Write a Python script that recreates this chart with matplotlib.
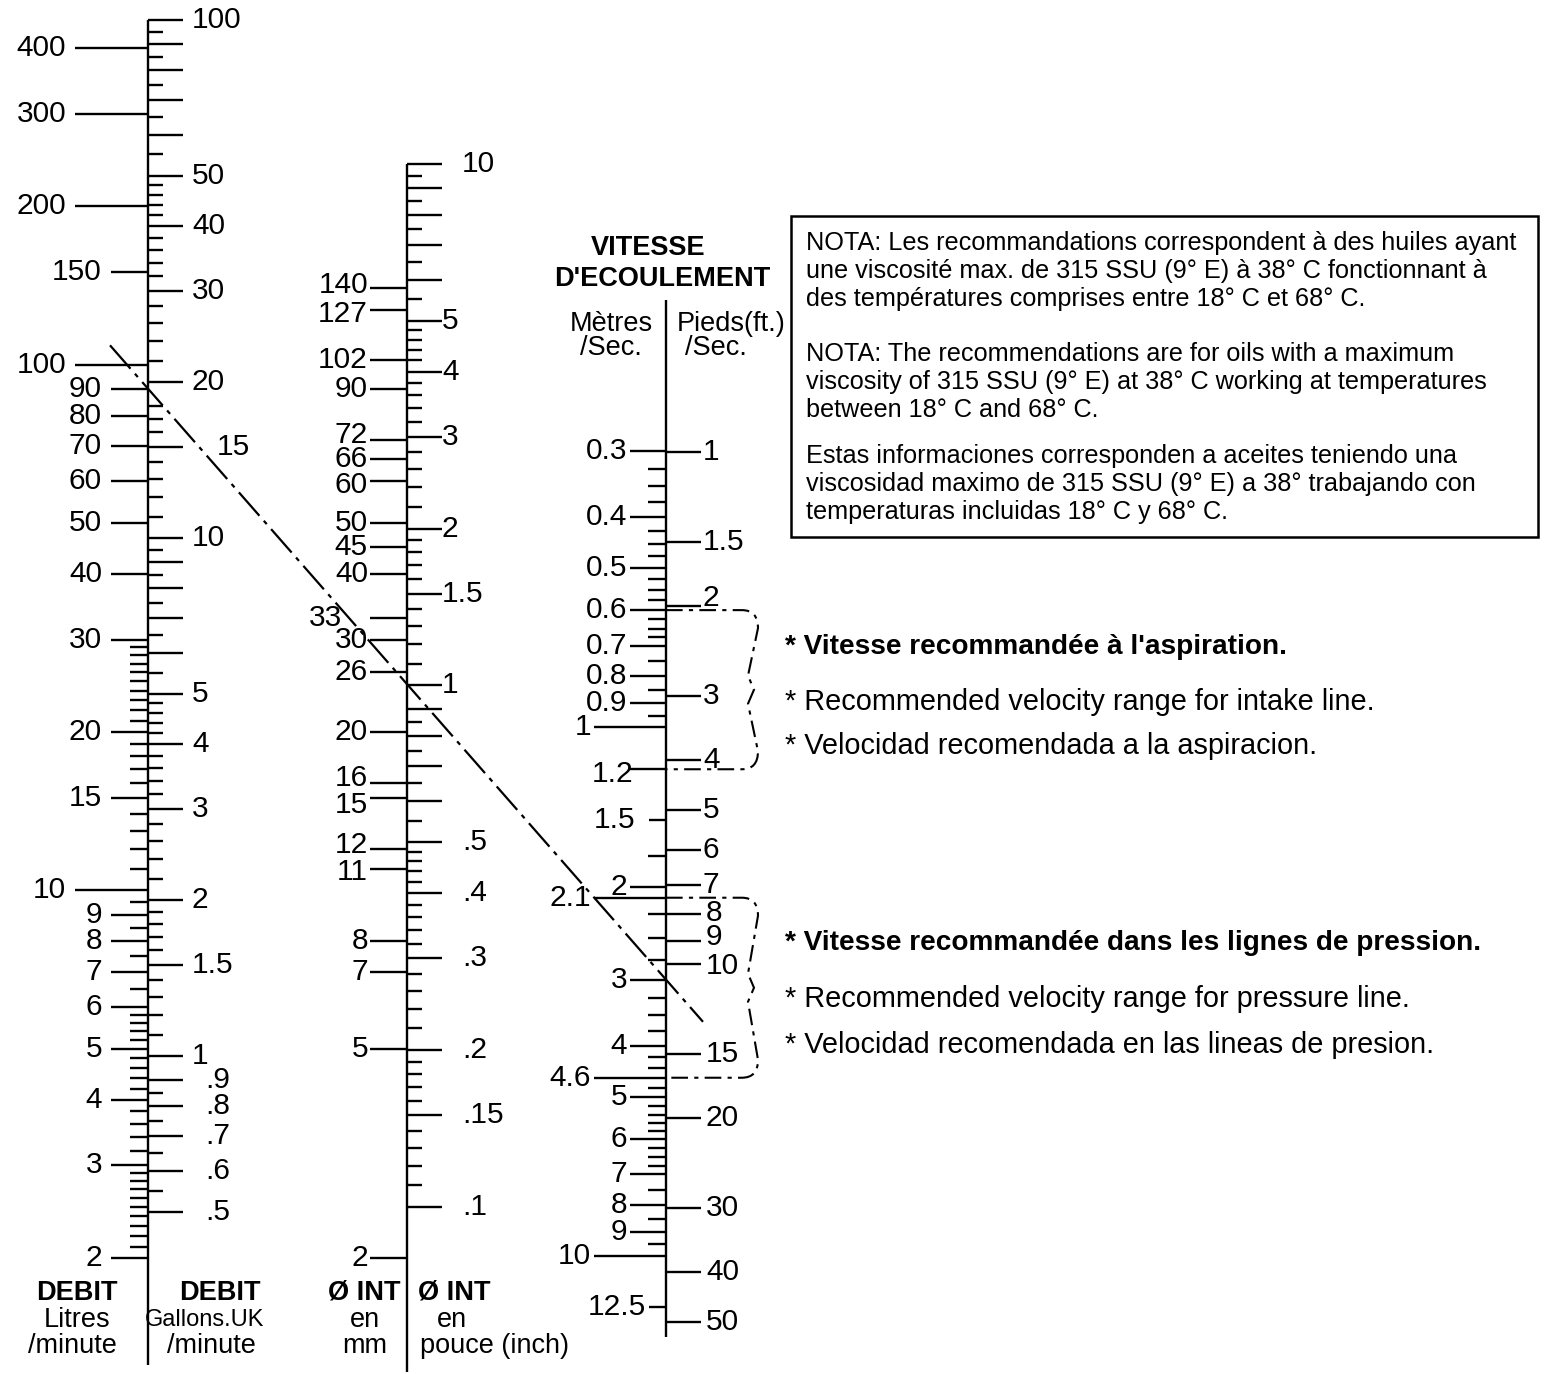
import numpy as np
import matplotlib.pyplot as plt
from matplotlib import transforms
from matplotlib.path import Path
from matplotlib.patches import PathPatch, Rectangle

plt.rcParams['font.family'] = ['Liberation Sans', 'DejaVu Sans']

# ---- scale values ----
litres_major = [400, 300, 200, 150, 100, 90, 80, 70, 60, 50, 40, 30, 20, 15,
                10, 9, 8, 7, 6, 5, 4, 3, 2]
litres_long = [400, 300, 200, 100, 10]
litres_minor = [29, 28, 27, 26, 25, 24, 23, 22, 21, 19, 18, 17, 16,
                14, 13, 12, 11, 9.5, 8.5, 7.5, 6.5,
                5.8, 5.6, 5.4, 5.2, 4.8, 4.6, 4.4, 4.2,
                3.8, 3.6, 3.4, 3.2, 2.9, 2.8, 2.7, 2.6, 2.5, 2.4, 2.3, 2.2, 2.1]

gal_labels = [100, 50, 40, 30, 20, 15, 10, 5, 4, 3, 2, 1.5, 1,
              .9, .8, .7, .6, .5]
gal_long = [90, 80, 70, 60, 9, 8, 7, 6]
gal_short = [95, 85, 75, 65, 55, 48, 46, 44, 42, 38, 36, 34, 32,
             28, 26, 24, 22, 18, 17, 16, 14, 13, 12, 11,
             9.5, 8.5, 7.5, 6.5, 5.5, 4.8, 4.6, 4.4, 4.2, 3.8, 3.6, 3.4, 3.2,
             2.8, 2.6, 2.4, 2.2, 1.9, 1.8, 1.7, 1.6, 1.4, 1.3, 1.2, 1.1,
             .85, .75, .65, .55]

mm_major = [140, 127, 102, 90, 72, 66, 60, 50, 45, 40, 33, 30, 26, 20,
            16, 15, 12, 11, 8, 7, 5, 2]

inch_labels = [10, 5, 4, 3, 2, 1.5, 1, .5, .4, .3, .2, .15, .1]
inch_long = [9, 8, 7, 6, .9, .8, .7, .6]
inch_short = [9.5, 8.5, 7.5, 6.5, 5.5, 4.8, 4.6, 4.4, 4.2, 3.8, 3.6, 3.4, 3.2,
              2.8, 2.6, 2.4, 2.2, 1.9, 1.8, 1.7, 1.6, 1.4, 1.3, 1.2, 1.1,
              .85, .75, .65, .55, .48, .46, .44, .42, .38, .36, .34, .32,
              .28, .26, .24, .22, .19, .18, .17, .16, .14, .13, .12, .11]

ms_major = [0.3, 0.4, 0.5, 0.6, 0.7, 0.8, 0.9, 1, 1.2, 1.5, 2, 2.1, 3, 4,
            4.6, 5, 6, 7, 8, 9, 10, 12.5]
ms_long = [1, 2.1, 4.6, 10]
ms_mid = [1.5, 12.5]
ms_minor = [0.325, 0.35, 0.375, 0.425, 0.45, 0.475, 0.525, 0.55, 0.575,
            0.625, 0.65, 0.675, 0.75, 0.85, 0.95, 1.75, 2.25, 2.5, 2.75,
            3.25, 3.5, 3.75, 4.2, 4.4, 4.8, 5.2, 5.4, 5.6, 5.8,
            6.25, 6.5, 6.75, 7.5, 8.5, 9.5]

ft_major = [1, 1.5, 2, 3, 4, 5, 6, 7, 8, 9, 10, 15, 20, 30, 40, 50]

# example reading: 90 l/min at 3 m/s -> 1 inch
example_q = 90
example_v = 3
# recommended ranges (m/s)
intake_range = (0.6, 1.2)
pressure_range = (2.1, 4.6)

W, H = 1549, 1374
fig = plt.figure(figsize=(W / 100, H / 100), dpi=100)
base = fig.add_axes([0, 0, 1, 1])
base.set_xlim(0, W)
base.set_ylim(H, 0)
base.axis('off')

NUM = 21.5   # tick label size
LW = 1.7


def scale_axes(v_a, p_a, v_b, p_b):
    # log axis over the whole figure, calibrated on two scale marks
    ppd = (p_b - p_a) / np.log10(v_a / v_b)
    top = v_a * 10 ** (p_a / ppd)
    bottom = v_a / 10 ** ((H - p_a) / ppd)
    ax = fig.add_axes([0, 0, 1, 1])
    ax.set_facecolor('none')
    ax.set_xlim(0, W)
    ax.set_yscale('log')
    ax.set_ylim(bottom, top)
    ax.axis('off')
    return ax


def fmt(v):
    s = '%g' % v
    if v < 1 and s.startswith('0.'):
        s = s[1:]
    return s


def label(ax, x, v, s, ha, dy=0, **kw):
    # dy in pixels, positive moves the text down
    tr = transforms.offset_copy(ax.transData, fig=fig, x=0, y=-dy,
                                units='dots')
    ax.text(x, v, s, ha=ha, va='center', fontsize=NUM, transform=tr, **kw)


ax_l = scale_axes(400, 48, 2, 1258)
ax_g = scale_axes(100, 20, 0.5, 1212)
ax_mm = scale_axes(102, 360, 2, 1258)
ax_in = scale_axes(10, 164, 0.1, 1207)
ax_ms = scale_axes(0.3, 451, 10, 1256)
ax_ft = scale_axes(1, 452, 50, 1322)

# main vertical lines
base.vlines([148, 407, 666], [20, 164, 300], [1365, 1372, 1337],
            color='black', lw=LW)

# --- Litres / minute (left of first axis) ---
for v in litres_major:
    x0 = 75 if v in litres_long else 111
    ax_l.hlines(v, x0, 148, color='black', lw=LW)
    label(ax_l, x0 - 9, v, fmt(v), 'right')
ax_l.hlines(litres_minor, 130, 148, color='black', lw=LW)

# --- Gallons UK / minute (right of first axis) ---
ax_g.hlines(gal_labels + gal_long, 148, 183, color='black', lw=LW)
ax_g.hlines(gal_short, 148, 163, color='black', lw=LW)
for v in gal_labels:
    s = fmt(v)
    dx = 22 if s.startswith('.') else 9
    if s == '15':
        dx = 34
    label(ax_g, 183 + dx, v, s, 'left')

# --- diameter mm (left of second axis) ---
mm_dy = {140: -3, 127: 4, 72: -5, 66: 0, 60: 4, 16: -5, 15: 7, 12: -4,
         11: 3}
ax_mm.hlines(mm_major, 370, 407, color='black', lw=LW)
for v in mm_major:
    x = 342 if v == 33 else 368
    label(ax_mm, x, v, fmt(v), 'right', dy=mm_dy.get(v, 0))

# --- diameter inch (right of second axis) ---
ax_in.hlines(inch_labels + inch_long, 407, 442, color='black', lw=LW)
ax_in.hlines(inch_short, 407, 422, color='black', lw=LW)
for v in inch_labels:
    s = fmt(v)
    dx = 20 if (s.startswith('.') or s == '10') else 0
    label(ax_in, 442 + dx, v, s, 'left')

# --- metres / sec (left of third axis) ---
for v in ms_major:
    if v in ms_long:
        x0 = 594
    elif v in ms_mid:
        x0 = 649
    else:
        x0 = 630
    ax_ms.hlines(v, x0, 666, color='black', lw=LW)
    xl, dy = x0 - 3, 0
    if v == 1.5:
        xl = 635
    if v == 1.2:
        xl, dy = 633, 5
    label(ax_ms, xl, v, '%g' % v, 'right', dy=dy)
ax_ms.hlines(ms_minor, 648, 666, color='black', lw=LW)

# --- feet / sec (right of third axis) ---
ft_dy = {2: -8, 8: -1, 9: -4, 10: 2}
ax_ft.hlines(ft_major, 666, 701, color='black', lw=LW)
for v in ft_major:
    label(ax_ft, 703 if v < 8 else 706, v, fmt(v), 'left',
          dy=ft_dy.get(v, 0))


def to_px(ax, x, v):
    d = ax.transData.transform((x, v))
    return base.transData.inverted().transform(d)


# --- example dash-dot reading line ---
p1 = to_px(ax_l, 148, example_q)
p2 = to_px(ax_ms, 666, example_v)
slope = (p2[1] - p1[1]) / (p2[0] - p1[0])
xs = np.array([110, 703])
base.plot(xs, p1[1] + slope * (xs - p1[0]), color='black', lw=1.6,
          ls=(0, (14, 3, 2, 3)))


# --- braces for recommended ranges ---
def brace(v_top, v_bot):
    yt = to_px(ax_ms, 666, v_top)[1]
    yb = to_px(ax_ms, 666, v_bot)[1]
    ym = (yt + yb) / 2
    verts = [(666, yt), (742, yt), (758, yt), (758, yt + 18),
             (748, ym - 14), (754, ym), (748, ym + 14),
             (758, yb - 18), (758, yb), (742, yb), (666, yb)]
    codes = [Path.MOVETO, Path.LINETO, Path.CURVE3, Path.CURVE3,
             Path.LINETO, Path.LINETO, Path.LINETO, Path.LINETO,
             Path.CURVE3, Path.CURVE3, Path.LINETO]
    base.add_patch(PathPatch(Path(verts, codes), fill=False, lw=1.5,
                             ls=(0, (8, 3, 2, 3)), color='black'))


brace(*intake_range)
brace(*pressure_range)

# --- headings ---
LAB = 19.5
heads = [
    (77, 1293, 'DEBIT', 'bold', LAB),
    (77, 1320, 'Litres', 'normal', LAB),
    (72, 1346, '/minute', 'normal', LAB),
    (220, 1293, 'DEBIT', 'bold', LAB),
    (205, 1320, 'Gallons.UK', 'normal', 17),
    (211, 1346, '/minute', 'normal', LAB),
    (364, 1293, 'Ø INT', 'bold', LAB),
    (365, 1320, 'en', 'normal', LAB),
    (365, 1346, 'mm', 'normal', LAB),
    (454, 1293, 'Ø INT', 'bold', LAB),
    (452, 1320, 'en', 'normal', LAB),
    (495, 1346, 'pouce (inch)', 'normal', LAB),
    (648, 248, 'VITESSE', 'bold', LAB),
    (662, 279, "D'ECOULEMENT", 'bold', LAB),
    (611, 324, 'Mètres', 'normal', LAB),
    (611, 348, '/Sec.', 'normal', LAB),
    (731, 324, 'Pieds(ft.)', 'normal', LAB),
    (716, 348, '/Sec.', 'normal', LAB),
]
for x, y, t, w, fs in heads:
    base.text(x, y, t, ha='center', va='center', fontsize=fs, fontweight=w)

# --- note box ---
base.add_patch(Rectangle((791, 216), 747, 321, fill=False, lw=1.8,
                         color='black'))
notes = [
    (243, 'NOTA: Les recommandations correspondent à des huiles ayant'),
    (271, 'une viscosité max. de 315 SSU (9° E) à 38° C fonctionnant à'),
    (299, 'des températures comprises entre 18° C et 68° C.'),
    (354, 'NOTA: The recommendations are for oils with a maximum'),
    (382, 'viscosity of 315 SSU (9° E) at 38° C working at temperatures'),
    (410, 'between 18° C and 68° C.'),
    (456, 'Estas informaciones corresponden a aceites teniendo una'),
    (484, 'viscosidad maximo de 315 SSU (9° E) a 38° trabajando con'),
    (512, 'temperaturas incluidas 18° C y 68° C.'),
]
for y, t in notes:
    base.text(806, y, t, ha='left', va='center', fontsize=18.2)

ann = [
    (647, '* Vitesse recommandée à l\'aspiration.', 'bold', 20.2),
    (702, '* Recommended velocity range for intake line.', 'normal', 20.8),
    (746, '* Velocidad recomendada a la aspiracion.', 'normal', 20.8),
    (943, '* Vitesse recommandée dans les lignes de pression.', 'bold', 20.2),
    (999, '* Recommended velocity range for pressure line.', 'normal', 20.8),
    (1045, '* Velocidad recomendada en las lineas de presion.', 'normal',
     20.8),
]
for y, t, w, fs in ann:
    base.text(785, y, t, ha='left', va='center', fontsize=fs, fontweight=w)

fig.savefig('out.png', dpi=100, facecolor='white')
